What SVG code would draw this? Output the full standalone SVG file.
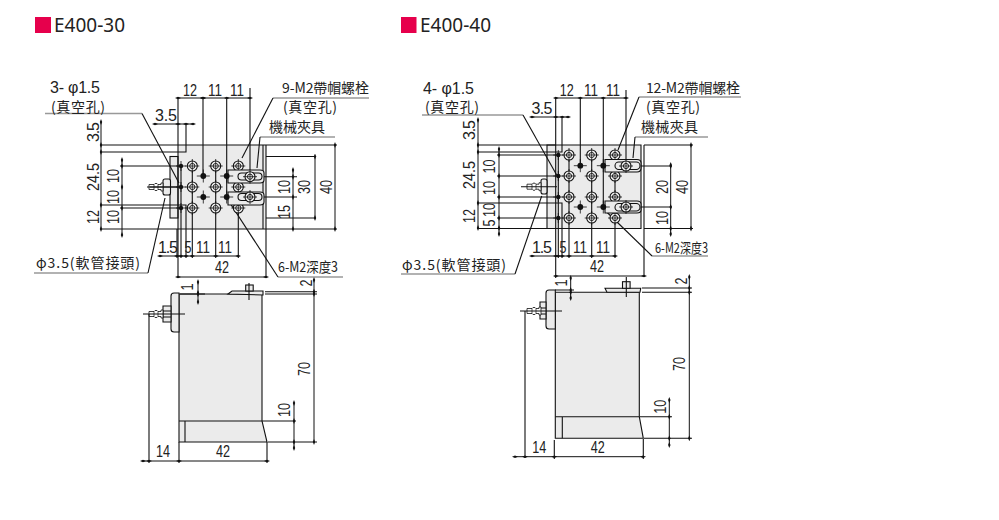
<svg xmlns="http://www.w3.org/2000/svg" width="999" height="520" viewBox="0 0 999 520">
<style>
text{font-family:"Liberation Sans","Noto Sans CJK TC",sans-serif;font-size:16px;fill:#222}
.t{font-family:"Noto Sans","Noto Sans CJK TC",sans-serif;font-size:20px;fill:#222}
.c{font-family:"Noto Sans CJK TC","Liberation Sans",sans-serif;font-size:14px}
.m{text-anchor:middle}
.l{fill:none;stroke:#111;stroke-width:1.1}
.f{fill:#ebebeb;stroke:#111;stroke-width:1.1}
.g{fill:#ebebeb;stroke:none}
.w{fill:none;stroke:#999;stroke-width:1.6}
.d{fill:none;stroke:#111;stroke-width:1;marker-start:url(#k);marker-mid:url(#k);marker-end:url(#k)}
.q{fill:#e6004c}
</style>
<defs>
<marker id="k" markerUnits="userSpaceOnUse" markerWidth="6" markerHeight="4" refX="3" refY="2" orient="auto"><path d="M0 2 3 .8 6 2 3 3.2Z" fill="#111"/></marker>
<g id="h"><circle r="5" fill="#f4f4f4" stroke="#111" stroke-width="1.1"/><circle r="2.6" fill="none" stroke="#111" stroke-width=".9"/><path d="M-7 0H7M0-7V7" stroke="#111" stroke-width=".8"/></g>
<g id="v"><circle r="2.2" fill="#111"/><path d="M-5 0H5M0-5V5" stroke="#111" stroke-width=".8"/></g>
<g id="b"><circle r="2.9" fill="#111"/><path d="M-6.5 0H6.5M0-6.5V6.5" stroke="#111" stroke-width=".8"/></g>
<g id="n"><path d="M0-2.5H5L6-3.5H8L9-2.5H12V-4H14V4H12V2.5H9L8 3.5H6L5 2.5H0Z" fill="#fff" stroke="#111" stroke-width=".8"/><path d="M5-2.5V2.5M9-2.5V2.5" stroke="#111" stroke-width=".7"/></g>
</defs>

<g id="title-1"><rect class="q" x="35" y="17" width="16" height="16"/><text class="t" x="54" y="32" textLength="71" lengthAdjust="spacingAndGlyphs">E400-30</text></g>
<g id="title-2"><rect class="q" x="401" y="17" width="15.500" height="16"/><text class="t" x="420" y="32" textLength="71" lengthAdjust="spacingAndGlyphs">E400-40</text></g>

<g id="E400-30-top">
<rect class="g" x="178" y="145" width="88" height="84"/>
<rect class="f" x="170" y="156.500" width="8" height="61.500"/>
<rect x="163" y="179" width="7.500" height="16" rx="2" class="f"/>
<use href="#n" x="149" y="187"/>
<path class="l" d="M147 187H178M178 97V278M266 145V278M263 145V229M178 145H266M178 229H266"/>
<g id="conn-1">
<path class="l" d="M100 145H178M100 152H186V125M100 205H186V258M100 229H178M120 166H181M120 208H181M150 187H181"/>
<path class="l" d="M203 98V176M226.700 98V197M250 88V176.700M181 166V258M192.300 166V258M215.700 166V258M238.300 166V258M177 229V258"/>
<path class="l" d="M266 156.500H316M266 218H316M266 229H337M266 145H337M250 176.700H297M264 197H297"/>
<path class="d" d="M178 98H203V98H226.700H250"/>
<path class="d" d="M155 124H178H186H193"/>
<path class="d" d="M101 122V145V152V205V229"/>
<path class="d" d="M122 160V166V187V208V235"/>
<path class="d" d="M335 145V229"/><path class="d" d="M315 156.500V218"/><path class="d" d="M293 170V176.700V197V229"/>
<path class="d" d="M160 256H177H181H186H192.300H215.700H238.300"/>
<path class="d" d="M178 277H266"/>
<path class="w" d="M45 113.500H142"/><path class="l" d="M142 113.500 179 183"/>
<path class="w" d="M34 273H148"/><path class="l" d="M148 273 165 198"/>
<path class="w" d="M273 98H369"/><path class="l" d="M273 98 242 158"/>
<path class="w" d="M260 137H335"/><path class="l" d="M260 137 257 168"/>
<path class="w" d="M278 277H343"/><path class="l" d="M278 277 228 200"/>
</g>
<use href="#v" x="181" y="166"/><use href="#v" x="181" y="187"/><use href="#v" x="181" y="208"/>
<use href="#h" x="192.300" y="166"/><use href="#h" x="215.700" y="166"/><use href="#h" x="238.300" y="166"/>
<use href="#h" x="192.300" y="187"/><use href="#h" x="215.700" y="187"/><use href="#h" x="238.300" y="187"/>
<use href="#h" x="192.300" y="208"/><use href="#h" x="215.700" y="208"/><use href="#h" x="238.300" y="208"/>
<use href="#b" x="203.300" y="176"/><use href="#b" x="203.300" y="197"/>
<path class="f" d="M228 170H260Q264 170 264 173V180Q264 183 260 183H228ZM228 192H260Q264 192 264 195V202Q264 205 260 205H228Z"/>
<rect class="f" x="238" y="173" width="24" height="7" rx="3.500"/><rect class="f" x="238" y="193.500" width="24" height="7" rx="3.500"/>
<use href="#h" x="250" y="176.700"/><use href="#h" x="250" y="197"/>
<use href="#b" x="226.700" y="176"/><use href="#b" x="226.700" y="197"/>
</g>

<g id="E400-30-labels">
<text class="m" x="190" y="96" textLength="14" lengthAdjust="spacingAndGlyphs">12</text>
<text class="m" x="215" y="96" textLength="14" lengthAdjust="spacingAndGlyphs">11</text>
<text class="m" x="237" y="96" textLength="14" lengthAdjust="spacingAndGlyphs">11</text>
<text class="m" x="166" y="121" textLength="22">3.5</text>
<text x="50" y="93" textLength="50" xml:space="preserve">3- φ1.5</text>
<text class="c" x="51" y="112" textLength="54">(真空孔)</text>
<text x="36" y="268" class="c" textLength="104">φ3.5(軟管接頭)</text>
<text class="c" x="282" y="93" textLength="87">9-M2帶帽螺栓</text>
<text class="c" x="283" y="112" textLength="54">(真空孔)</text>
<text class="c" x="269" y="132" textLength="56">機械夾具</text>
<text class="c" x="278" y="272" textLength="60" lengthAdjust="spacingAndGlyphs">6-M2深度3</text>
<text class="m" x="168" y="253" textLength="20">1.5</text>
<text class="m" x="188" y="253" textLength="7" lengthAdjust="spacingAndGlyphs">5</text>
<text class="m" x="203" y="253" textLength="14" lengthAdjust="spacingAndGlyphs">11</text>
<text class="m" x="225" y="253" textLength="14" lengthAdjust="spacingAndGlyphs">11</text>
<text class="m" x="222" y="273" textLength="14" lengthAdjust="spacingAndGlyphs">42</text>
<text class="m" transform="translate(99 132)rotate(-90)" textLength="20">3.5</text>
<text class="m" transform="translate(99 177)rotate(-90)" textLength="28" lengthAdjust="spacingAndGlyphs">24.5</text>
<text class="m" transform="translate(99 217)rotate(-90)" textLength="14" lengthAdjust="spacingAndGlyphs">12</text>
<text class="m" transform="translate(119 176)rotate(-90)" textLength="14" lengthAdjust="spacingAndGlyphs">10</text>
<text class="m" transform="translate(119 197)rotate(-90)" textLength="14" lengthAdjust="spacingAndGlyphs">10</text>
<text class="m" transform="translate(119 217)rotate(-90)" textLength="14" lengthAdjust="spacingAndGlyphs">10</text>
<text class="m" transform="translate(290 187)rotate(-90)" textLength="14" lengthAdjust="spacingAndGlyphs">10</text>
<text class="m" transform="translate(290 212)rotate(-90)" textLength="14" lengthAdjust="spacingAndGlyphs">15</text>
<text class="m" transform="translate(310 187)rotate(-90)" textLength="14" lengthAdjust="spacingAndGlyphs">30</text>
<text class="m" transform="translate(332 187)rotate(-90)" textLength="14" lengthAdjust="spacingAndGlyphs">40</text>
</g>

<g id="E400-30-side">
<path class="f" d="M179 294H262V421L267 442H179Z"/>
<path class="l" d="M179 421H262M185 421V442"/>
<path class="f" d="M179 293H174Q171 293 171 296V329Q171 332 174 332H179Z"/>
<path class="f" d="M163 306H171V322H163Z"/><path class="l" d="M163 311H171M163 317H171"/>
<use href="#n" x="149" y="314"/>
<path class="l" d="M143 314H185"/>
<path class="f" d="M228 294 232 291H263V295Z"/>
<rect class="f" x="245.700" y="285" width="7.500" height="6"/>
<path class="l" d="M249 283V300"/>
<g id="conn-2">
<path class="l" d="M149 314V463M179 442V463M267 442V463M265 291.700H317M265 294H317M268 442H317M262 421H296M180 294H205"/>
<path class="d" d="M143 461H149H179H267"/>
<path class="d" d="M314 280V291.700V294V442"/>
<path class="d" d="M294 403V421V442V448"/>
<path class="d" d="M198 282V293V294V302"/>
</g>
<text class="m" x="163" y="457" textLength="14" lengthAdjust="spacingAndGlyphs">14</text>
<text class="m" x="223" y="457" textLength="14" lengthAdjust="spacingAndGlyphs">42</text>
<text class="m" transform="translate(312 283)rotate(-90)" textLength="7" lengthAdjust="spacingAndGlyphs">2</text>
<text class="m" transform="translate(310 369)rotate(-90)" textLength="14" lengthAdjust="spacingAndGlyphs">70</text>
<text class="m" transform="translate(290 410)rotate(-90)" textLength="14" lengthAdjust="spacingAndGlyphs">10</text>
<text class="m" transform="translate(193 287)rotate(-90)" textLength="7" lengthAdjust="spacingAndGlyphs">1</text>
</g>

<g id="E400-40-top">
<rect class="g" x="547" y="145" width="94" height="83.500"/>
<path class="l" d="M547 145V228.500H641V145ZM644 145V277"/>
<rect x="541" y="179" width="6" height="15" rx="2" class="f"/>
<use href="#n" x="527" y="186.700"/>
<path class="l" d="M521 186.700H557M555.700 97V278"/>
<g id="conn-3">
<path class="l" d="M477 145H556M477 152H562V117M477 203H562V258M477 228.500H556M497 155H558M497 176H558M497 197H558M497 218H558"/>
<path class="l" d="M580.300 98V166M603.300 98V207M626 90V166M558.300 155V258M569 155V258M591.700 155V258M615 155V258"/>
<path class="l" d="M644 145H693M644 228.500H693M626 166H672M640 207H672"/>
<path class="d" d="M555.700 98H580.300H603.300H626"/>
<path class="d" d="M532 117H555.700H562.300H568"/>
<path class="d" d="M478 120V145V152V203V228"/>
<path class="d" d="M499 149V155V176V197V218V228V234"/>
<path class="d" d="M691 145V228.500"/><path class="d" d="M670.700 165V166V207V228.500V234"/>
<path class="d" d="M532 256H555.700H558.300H562.300H569H591.700H615"/>
<path class="d" d="M555.700 276H644"/>
<path class="w" d="M422 115H523"/><path class="l" d="M523 115 556.700 175"/>
<path class="w" d="M401 274H515"/><path class="l" d="M515 274 541.700 196"/>
<path class="w" d="M639 97H741"/><path class="l" d="M639 97 618 150"/>
<path class="w" d="M635 137H708"/><path class="l" d="M635 137 633 158"/>
<path class="w" d="M652 256H708"/><path class="l" d="M652 256 606.700 212"/>
</g>
<use href="#v" x="558.300" y="155"/><use href="#v" x="558.300" y="176"/><use href="#v" x="558.300" y="197"/><use href="#v" x="558.300" y="218"/>
<use href="#h" x="569" y="155"/><use href="#h" x="591.700" y="155"/><use href="#h" x="615" y="155"/>
<use href="#h" x="569" y="176"/><use href="#h" x="591.700" y="176"/><use href="#h" x="615" y="176"/>
<use href="#h" x="569" y="197"/><use href="#h" x="591.700" y="197"/><use href="#h" x="615" y="197"/>
<use href="#h" x="569" y="218"/><use href="#h" x="591.700" y="218"/><use href="#h" x="615" y="218"/>
<use href="#b" x="580.300" y="165.700"/><use href="#b" x="580.300" y="207"/>
<path class="f" d="M605 159.500H637Q641 159.500 641 163V168Q641 172 637 172H605ZM605 201H637Q641 201 641 204V210Q641 213 637 213H605Z"/>
<rect class="f" x="615" y="162" width="25" height="7.500" rx="3.700"/><rect class="f" x="615" y="203.500" width="25" height="7.500" rx="3.700"/>
<use href="#h" x="626" y="166"/><use href="#h" x="626" y="207"/>
<use href="#b" x="603.300" y="165.700"/><use href="#b" x="603.300" y="207"/>
</g>

<g id="E400-40-labels">
<text class="m" x="566.700" y="96" textLength="14" lengthAdjust="spacingAndGlyphs">12</text>
<text class="m" x="591" y="96" textLength="14" lengthAdjust="spacingAndGlyphs">11</text>
<text class="m" x="613" y="96" textLength="14" lengthAdjust="spacingAndGlyphs">11</text>
<text class="m" x="542" y="114" textLength="21">3.5</text>
<text x="423" y="94" textLength="51" xml:space="preserve">4- φ1.5</text>
<text class="c" x="425" y="112" textLength="54">(真空孔)</text>
<text class="c" x="402" y="270" textLength="104">φ3.5(軟管接頭)</text>
<text class="c" x="646" y="93" textLength="94">12-M2帶帽螺栓</text>
<text class="c" x="646" y="112" textLength="54">(真空孔)</text>
<text class="c" x="641" y="132" textLength="57">機械夾具</text>
<text class="c" x="655" y="253" textLength="53" lengthAdjust="spacingAndGlyphs">6-M2深度3</text>
<text class="m" x="542" y="253" textLength="20">1.5</text>
<text class="m" x="563" y="253" textLength="7" lengthAdjust="spacingAndGlyphs">5</text>
<text class="m" x="580" y="253" textLength="14" lengthAdjust="spacingAndGlyphs">11</text>
<text class="m" x="603" y="253" textLength="14" lengthAdjust="spacingAndGlyphs">11</text>
<text class="m" x="597" y="272" textLength="14" lengthAdjust="spacingAndGlyphs">42</text>
<text class="m" transform="translate(475 130)rotate(-90)" textLength="20">3.5</text>
<text class="m" transform="translate(475 175)rotate(-90)" textLength="28" lengthAdjust="spacingAndGlyphs">24.5</text>
<text class="m" transform="translate(475 216)rotate(-90)" textLength="14" lengthAdjust="spacingAndGlyphs">12</text>
<text class="m" transform="translate(495 166.500)rotate(-90)" textLength="14" lengthAdjust="spacingAndGlyphs">10</text>
<text class="m" transform="translate(495 188)rotate(-90)" textLength="14" lengthAdjust="spacingAndGlyphs">10</text>
<text class="m" transform="translate(495 210)rotate(-90)" textLength="14" lengthAdjust="spacingAndGlyphs">10</text>
<text class="m" transform="translate(495 223)rotate(-90)" textLength="7" lengthAdjust="spacingAndGlyphs">5</text>
<text class="m" transform="translate(668 187)rotate(-90)" textLength="14" lengthAdjust="spacingAndGlyphs">20</text>
<text class="m" transform="translate(668 218)rotate(-90)" textLength="14" lengthAdjust="spacingAndGlyphs">10</text>
<text class="m" transform="translate(688 187)rotate(-90)" textLength="14" lengthAdjust="spacingAndGlyphs">40</text>
</g>

<g id="E400-40-side">
<path class="f" d="M555.300 292.300H639.300V416.700L643.300 438.300H555.300Z"/>
<path class="l" d="M555.300 416.700H639.300M562.300 416.700V438.300"/>
<path class="f" d="M555.300 290H549Q546 290 546 293V326Q546 329 549 329H555.300Z"/>
<path class="f" d="M540 302H546V319H540Z"/><path class="l" d="M540 308H546M540 314H546"/>
<use href="#n" x="527" y="311"/>
<path class="l" d="M520 311H562"/>
<path class="f" d="M605 288.300H640.700L640 292.300H607Z"/>
<rect class="f" x="622.500" y="281.700" width="7.600" height="6.600"/>
<path class="l" d="M626.300 277V297"/>
<g id="conn-4">
<path class="l" d="M525 311V458M554.300 440V459M643.300 439V459M642 288H692M642 292.300H692M644 438.300H692M640 416.700H672M555 290H574"/>
<path class="d" d="M515 456.700H525H554.300H643"/>
<path class="d" d="M689.300 277V288V292.300V438.300"/>
<path class="d" d="M669.300 400V416.700V438.300V445"/>
<path class="d" d="M570.700 278V290V292.300V298"/>
</g>
<text class="m" x="539.300" y="452.700" textLength="14" lengthAdjust="spacingAndGlyphs">14</text>
<text class="m" x="597.700" y="452.700" textLength="14" lengthAdjust="spacingAndGlyphs">42</text>
<text class="m" transform="translate(686.700 281)rotate(-90)" textLength="7" lengthAdjust="spacingAndGlyphs">2</text>
<text class="m" transform="translate(685 364)rotate(-90)" textLength="14" lengthAdjust="spacingAndGlyphs">70</text>
<text class="m" transform="translate(665.700 406.700)rotate(-90)" textLength="14" lengthAdjust="spacingAndGlyphs">10</text>
<text class="m" transform="translate(566.700 283)rotate(-90)" textLength="7" lengthAdjust="spacingAndGlyphs">1</text>
</g>
</svg>
